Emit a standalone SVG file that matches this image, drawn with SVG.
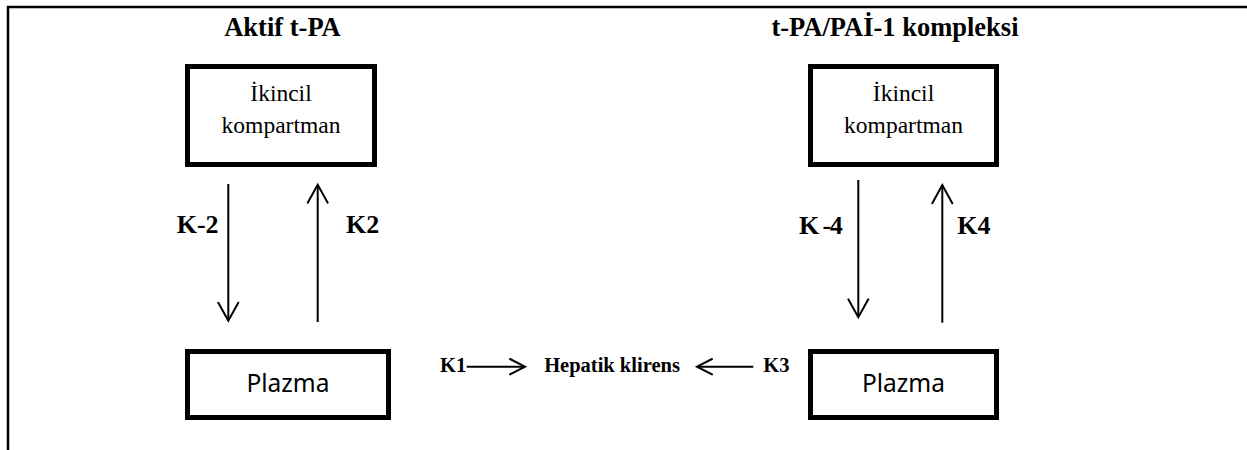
<svg xmlns="http://www.w3.org/2000/svg" width="1247" height="450" viewBox="0 0 1247 450">
  <style>
    .frame { stroke: #000; stroke-width: 2.5; fill: none; }
    .box { fill: #fff; stroke: #000; stroke-width: 5; }
    .conn { stroke: #000; stroke-width: 2; fill: none; }
    .head { stroke: #000; stroke-width: 2; fill: none; stroke-linecap: round; stroke-linejoin: miter; }
    .title { font-family: "Liberation Serif", "Times New Roman", serif; font-weight: bold; font-size: 26.5px; text-anchor: middle; }
    .serif { font-family: "Liberation Serif", "Times New Roman", serif; font-size: 23.5px; text-anchor: middle; }
    .sans { font-family: "Noto Sans", "Open Sans", sans-serif; font-size: 24.5px; text-anchor: middle; }
    .klabel { font-family: "Liberation Serif", "Times New Roman", serif; font-weight: bold; font-size: 26px; }
    .small { font-family: "Liberation Serif", "Times New Roman", serif; font-weight: bold; font-size: 20.5px; }
  </style>

  <rect width="1247" height="450" fill="#fff"/>

  <!-- page frame -->
  <path class="frame" d="M8 450 V7 H1247"/>

  <!-- headings -->
  <text class="title" x="282.5" y="36">Aktif t-PA</text>
  <text class="title" x="895" y="36">t-PA/PAİ-1 kompleksi</text>

  <!-- active t-PA: secondary compartment -->
  <g id="ikincil-1">
    <rect class="box" x="187.5" y="66.5" width="187" height="98"/>
    <text class="serif" x="281" y="101">İkincil</text>
    <text class="serif" x="281" y="133">kompartman</text>
  </g>

  <!-- active t-PA: plasma -->
  <g id="plazma-1">
    <rect class="box" x="187.5" y="351.5" width="201" height="66"/>
    <text class="sans" x="288" y="392">Plazma</text>
  </g>

  <!-- complex: secondary compartment -->
  <g id="ikincil-2">
    <rect class="box" x="810.5" y="66.5" width="186" height="98"/>
    <text class="serif" x="903.5" y="101">İkincil</text>
    <text class="serif" x="903.5" y="133">kompartman</text>
  </g>

  <!-- complex: plasma -->
  <g id="plazma-2">
    <rect class="box" x="810.5" y="351.5" width="186" height="66"/>
    <text class="sans" x="903.5" y="392">Plazma</text>
  </g>

  <!-- hepatic clearance -->
  <g id="hepatik">
    <text class="small" x="612" y="371.7" text-anchor="middle">Hepatik klirens</text>
  </g>

  <!-- rate constants and flow arrows -->
  <g id="connectors">
    <!-- K-2: secondary -> plasma -->
    <line class="conn" x1="228.3" y1="184" x2="228.3" y2="320"/>
    <path class="head" d="M218.3 302.7 L228.3 320.7 L238.3 302.7"/>
    <!-- K2: plasma -> secondary -->
    <line class="conn" x1="317.7" y1="322" x2="317.7" y2="185"/>
    <path class="head" d="M307.7 202.7 L317.7 184.7 L327.7 202.7"/>

    <!-- K-4: secondary -> plasma -->
    <line class="conn" x1="858.3" y1="180" x2="858.3" y2="317"/>
    <path class="head" d="M848.3 299.3 L858.3 317.3 L868.3 299.3"/>
    <!-- K4: plasma -> secondary -->
    <line class="conn" x1="942.3" y1="322.7" x2="942.3" y2="185"/>
    <path class="head" d="M932.3 203.3 L942.3 185 L952.3 203.3"/>

    <!-- K1: plasma -> liver -->
    <line class="conn" x1="466.7" y1="366.7" x2="524" y2="366.7"/>
    <path class="head" d="M510 359 L525 366.7 L510 374.4"/>
    <!-- K3: plasma -> liver -->
    <line class="conn" x1="753.3" y1="366.7" x2="698" y2="366.7"/>
    <path class="head" d="M712 359 L697 366.7 L712 374.4"/>
  </g>

  <g id="labels">
    <text class="klabel" x="176.7" y="232.7">K-2</text>
    <text class="klabel" x="346" y="232.7">K2</text>
    <text class="klabel" x="799" y="234" textLength="43.7">K -4</text>
    <text class="klabel" x="957.3" y="234">K4</text>
    <text class="small" x="440" y="371.7">K1</text>
    <text class="small" x="763.3" y="371.7">K3</text>
  </g>
</svg>
